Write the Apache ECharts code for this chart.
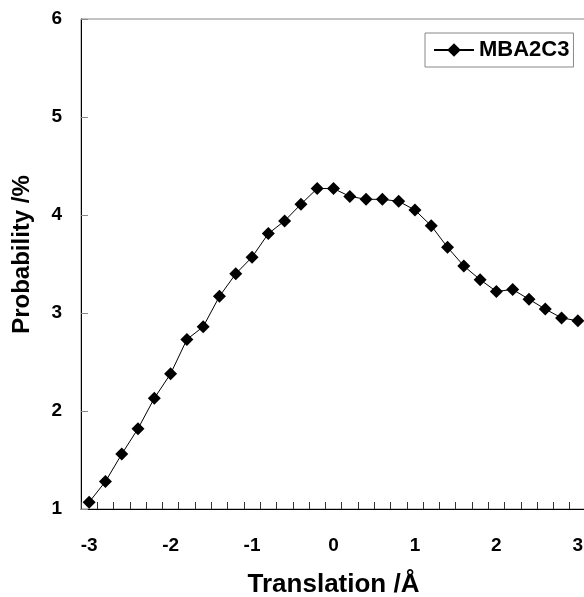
<!DOCTYPE html>
<html>
<head>
<meta charset="utf-8">
<script src="https://cdn.jsdelivr.net/npm/echarts@6/dist/echarts.min.js"></script>
<style>
html,body{margin:0;padding:0;background:#fff;overflow:hidden;}
#c{width:584px;height:597px;}
</style>
</head>
<body>
<div id="c"></div>
<script>
var categories = ['-3','-2.8','-2.6','-2.4','-2.2','-2','-1.8','-1.6','-1.4','-1.2','-1','-0.8','-0.6','-0.4','-0.2','0','0.2','0.4','0.6','0.8','1','1.2','1.4','1.6','1.8','2','2.2','2.4','2.6','2.8','3'];
var seriesName = 'MBA2C3';
var probability = [1.07,1.28,1.56,1.82,2.13,2.38,2.73,2.86,3.17,3.40,3.57,3.81,3.94,4.11,4.27,4.27,4.19,4.16,4.16,4.14,4.05,3.89,3.67,3.48,3.34,3.22,3.24,3.14,3.04,2.95,2.92];
var xTitle = 'Translation /Å';
var yTitle = 'Probability /%';

var FONT = '"Liberation Sans", Arial, sans-serif';
var chart = echarts.init(document.getElementById('c'), null, {renderer:'canvas', width:584, height:597});
chart.setOption({
  animation:false,
  backgroundColor:'#fff',
  grid:{left:81, top:19, width:505, height:490, containLabel:false, outerBoundsMode:'none',
        show:true, borderColor:'#888', borderWidth:1, backgroundColor:'transparent'},
  legend:{
    left:425, top:33,
    data:[seriesName],
    itemWidth:40, itemHeight:17,
    padding:[6,4,6,8],
    borderColor:'#888', borderWidth:1, borderRadius:0,
    textStyle:{fontFamily:FONT, fontWeight:'bold', fontSize:22, color:'#000'}
  },
  xAxis:{
    type:'category',
    data:categories,
    boundaryGap:true,
    name:xTitle, nameLocation:'middle', nameGap:63,
    nameTextStyle:{fontFamily:FONT, fontWeight:'bold', fontSize:26, color:'#000'},
    axisLine:{lineStyle:{color:'#000', width:1}},
    axisTick:{show:true, inside:true, length:7, interval:0, alignWithLabel:false, lineStyle:{color:'#333'}},
    axisLabel:{interval:4, margin:27, fontFamily:FONT, fontWeight:'bold', fontSize:19, color:'#000'},
    splitLine:{show:false}
  },
  yAxis:{
    type:'value', min:1, max:6, interval:1,
    name:yTitle, nameLocation:'middle', nameGap:47,
    nameTextStyle:{fontFamily:FONT, fontWeight:'bold', fontSize:24, color:'#000', padding:[0,0,0,19]},
    axisLine:{show:true, lineStyle:{color:'#000', width:1}},
    axisTick:{show:true, inside:true, length:7, lineStyle:{color:'#888'}},
    axisLabel:{margin:19, fontFamily:FONT, fontWeight:'bold', fontSize:19, color:'#000'},
    splitLine:{show:false}
  },
  series:[{
    name:seriesName,
    type:'line',
    data:probability,
    symbol:'diamond',
    symbolSize:13,
    showAllSymbol:true,
    lineStyle:{color:'#000', width:1},
    itemStyle:{color:'#000'}
  }]
});
</script>
</body>
</html>
